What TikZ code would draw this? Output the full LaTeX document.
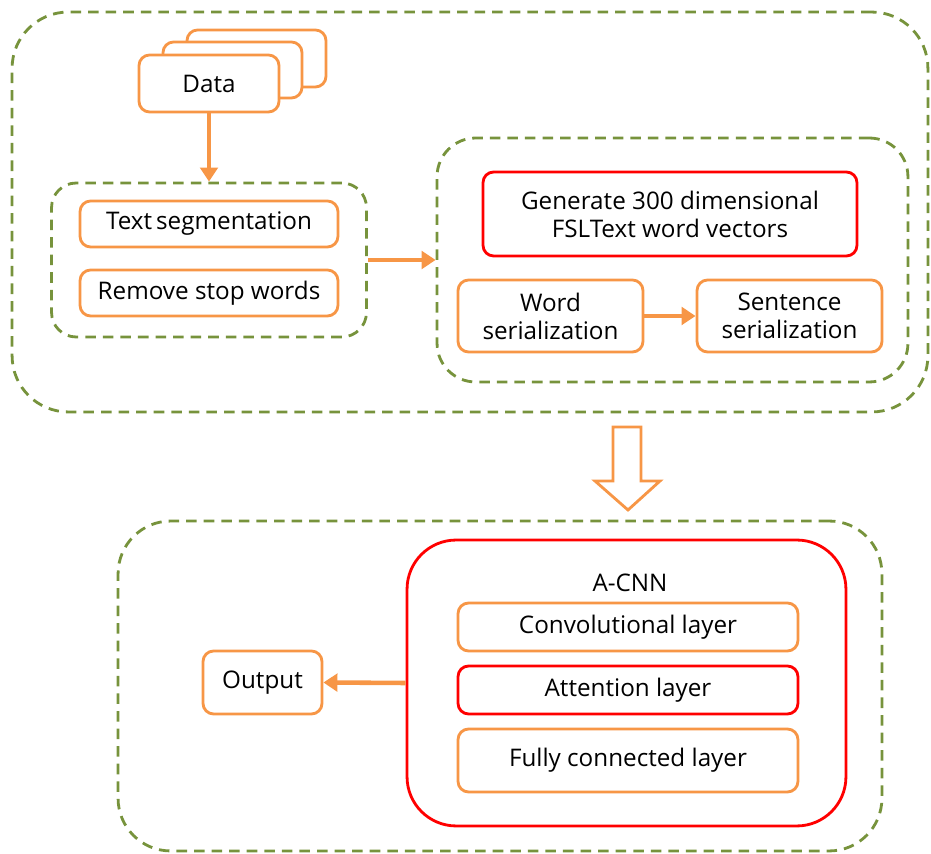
\documentclass[tikz,border=0pt]{standalone}
\usepackage{fontspec}
\setmainfont{Open Sans}
\usetikzlibrary{arrows.meta}

\definecolor{boxorange}{RGB}{247,150,70}
\definecolor{dashgreen}{RGB}{119,147,60}
\definecolor{boxred}{RGB}{255,0,0}

\begin{document}
\begin{tikzpicture}[x=0.02cm, y=-0.02cm, font=\fontsize{13.8}{16}\selectfont]
            \tikzset{
                obox/.style={draw=boxorange, line width=1.6pt, rounded corners=6pt, fill=white, align=center, inner sep=0pt},
                rbox/.style={obox, draw=boxred},
                group/.style={draw=dashgreen, line width=1.6pt, dash pattern=on 6pt off 4pt, inner sep=0pt},
                link/.style={-{Triangle[length=8pt, width=10pt]}, draw=boxorange, line width=2.6pt}
            }
            \useasboundingbox (0,0) rectangle (931,854);

            % Voorbewerking (bovenste blok)
            \node[group, rounded corners=32pt, minimum width=18.32cm, minimum height=8cm] (prep) at (470,212) {};
            \node[obox, minimum width=2.78cm, minimum height=1.14cm] (data3) at (256.5,58.5) {};
            \node[obox, minimum width=2.78cm, minimum height=1.12cm] (data2) at (232.5,70) {};
            \node[obox, minimum width=2.8cm, minimum height=1.14cm] (data) at (209,83.5) {Data};

            \node[group, rounded corners=14pt, minimum width=6.3cm, minimum height=3.08cm] (segbox) at (209,260) {};
            \node[obox, minimum width=5.16cm, minimum height=0.92cm] (textseg) at (209,224) {Text\,segmentation};
            \node[obox, minimum width=5.16cm, minimum height=0.92cm] (stopw) at (209,293) {Remove stop words};

            \node[group, rounded corners=22pt, minimum width=9.42cm, minimum height=4.88cm] (vecbox) at (672.5,260) {};
            \node[rbox, minimum width=7.48cm, minimum height=1.68cm] (genvec) at (670,214) {Generate 300 dimensional\\FSLText word vectors};
            \node[obox, minimum width=3.7cm, minimum height=1.44cm] (wordser) at (550.5,316) {Word\\serialization};
            \node[obox, minimum width=3.7cm, minimum height=1.44cm] (sentser) at (789.5,316) {Sentence\\serialization};

            \draw[link] (data.south) -- (segbox.north);
            \draw[link] (segbox.east) -- (vecbox.west);
            \draw[link] (wordser.east) -- (sentser.west);

            % Holle pijl naar beneden
            \draw[boxorange, line width=1.6pt, fill=white] (613,427) -- (641,427) -- (641,481) -- (660,481) -- (628,510) -- (595,481) -- (613,481) -- cycle;

            % Model (onderste blok)
            \node[group, rounded corners=30pt, minimum width=15.28cm, minimum height=6.6cm] (model) at (500,686) {};
            \node[rbox, rounded corners=28pt, minimum width=8.78cm, minimum height=5.72cm] (acnn) at (626.5,683) {};
            \node (acnnlabel) at (630,583) {A-CNN};
            \node[obox, minimum width=6.8cm, minimum height=0.96cm] (conv) at (628,627) {Convolutional layer};
            \node[rbox, minimum width=6.8cm, minimum height=0.96cm] (att) at (628,690) {Attention layer};
            \node[obox, minimum width=6.8cm, minimum height=1.26cm] (fc) at (628,760.5) {Fully connected layer};
            \node[obox, minimum width=2.38cm, minimum height=1.26cm] (output) at (262.5,682.5) {Output};

            \draw[link] (acnn.west) -- (output.east);
        \end{tikzpicture}
\end{document}
